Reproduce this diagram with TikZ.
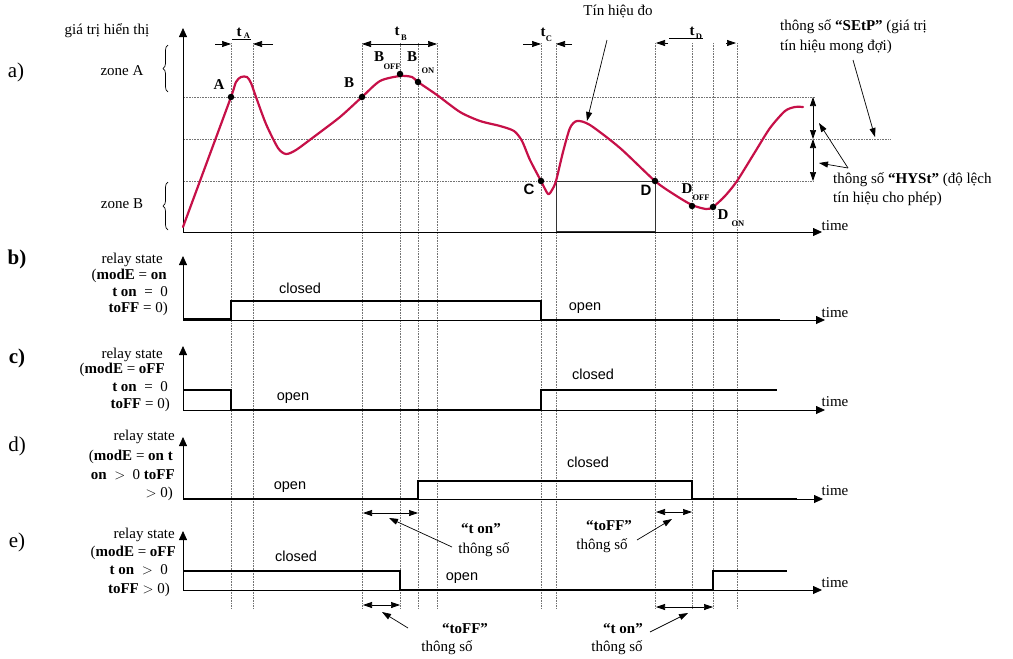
\documentclass[tikz,border=0pt]{standalone}
\usepackage{fontspec}
\setmainfont{Liberation Serif}
\setsansfont{Liberation Sans}
\usetikzlibrary{arrows.meta,decorations.pathreplacing}
\definecolor{sigred}{RGB}{198,16,72}
\tikzset{
  grid/.style={densely dotted, black!55, line width=0.6pt},
  axis/.style={line width=0.8pt, -{Triangle[length=9pt,width=8pt]}},
  relay/.style={line width=2.6pt},
  txt/.style={font=\fontsize{15}{16}\selectfont, inner sep=0pt, text height=10pt, text depth=3pt},
  stxt/.style={font=\sffamily\fontsize{14.5}{16}\selectfont, inner sep=0pt, text height=10pt, text depth=3pt},
  btxt/.style={font=\bfseries\fontsize{15}{16}\selectfont, inner sep=0pt, text height=10pt, text depth=3pt},
  bstxt/.style={font=\sffamily\bfseries\fontsize{15}{16}\selectfont, inner sep=0pt},
  lab/.style={font=\fontsize{21}{22}\selectfont, inner sep=0pt},
  subt/.style={font=\bfseries\fontsize{8.5}{9}\selectfont, inner sep=0pt},
  dot/.style={circle, fill=black, inner sep=0pt, minimum size=6.5pt},
  ann/.style={line width=0.7pt, -{Triangle[length=9pt,width=6pt]}},
  dbl/.style={line width=0.7pt, {Triangle[length=9pt,width=6pt]}-{Triangle[length=9pt,width=6pt]}},
  curve/.style={sigred, line width=2.2pt, line join=round, line cap=round},
  thin/.style={line width=0.7pt},
}
\begin{document}
\begin{tikzpicture}[x=1pt,y=-1pt]
\useasboundingbox (0,0) rectangle (1013,659);
% vertical grid
\foreach \x in {231,253,362,400,418,437,541,556,655,692,713,737}
  \draw[grid] (\x,43) -- (\x,608);
% horizontal grid
\draw[grid] (184,97) -- (815,97);
\draw[grid] (184,139) -- (890,139);
\draw[grid] (184,181) -- (813,181);

% ---------- panel a ----------
\node[lab] (la) at (16,72) {a)};
\node[txt] (gt) at (107,31) {giá trị hiển thị};
\node[txt] (zA) at (122,72) {zone A};
\node[txt] (zB) at (122,205) {zone B};
\draw[thin, decorate, decoration={brace, amplitude=5pt}] (168,92) -- (168,45);
\draw[thin, decorate, decoration={brace, amplitude=5pt}] (168,230) -- (168,182);
\coordinate (oa) at (183,232);
\coordinate (ya) at (183,28);
\coordinate (xa) at (822,232);
\draw[axis] (oa) -- (ya);
\draw[axis] (oa) -- (xa);
\node[txt] (timea) at (835,227) {time};

% box
\draw[line width=0.8pt, black!80] (556,181) rectangle (655,231);

% curve
\draw[curve] plot[smooth, tension=0.45] coordinates {
 (183,227) (207,162) (231,97) (236,82) (241,77) (247,77) (251,83) (256,97)
 (266,124) (278,148) (286,154) (296,150) (315,136) (340,117) (362,97)
 (380,81) (400,76) (412,77) (418,82) (437,95) (460,112) (480,121)
 (500,126) (514,131) (522,141) (530,160) (541,181) (548,194) (552,190)
 (556,181) (563,152) (570,128) (577,121) (590,125) (620,148) (655,181)
 (675,195) (692,205) (706,209) (713,207) (725,196) (737,181) (755,152)
 (770,128) (785,111) (795,107) (803,107)};

% points
\node[dot] (pA) at (231,97) {};
\node[dot] (pB) at (362,97) {};
\node[dot] (pBoff) at (400,74) {};
\node[dot] (pBon) at (418,82) {};
\node[dot] (pC) at (541,181) {};
\node[dot] (pD) at (655,181) {};
\node[dot] (pDoff) at (692,206) {};
\node[dot] (pDon) at (713,207) {};
\node[btxt] (lA) at (219,86) {A};
\node[btxt] (lB) at (349,84) {B};
\node[btxt] (lBoff) at (379,58) {B};
\node[subt] (lBoffs) at (392,67) {OFF};
\node[btxt] (lBon) at (412,58) {B};
\node[subt] (lBons) at (428,71) {ON};
\node[bstxt] (lC) at (529,189) {C};
\node[bstxt] (lD) at (646,190) {D};
\node[btxt] (lDoff) at (687,190) {D};
\node[subt] (lDoffs) at (701,198) {OFF};
\node[btxt] (lDon) at (723,216) {D};
\node[subt] (lDons) at (738,224) {ON};

% t labels
\node[btxt] (tA) at (239,33) {t};
\node[subt] (tAs) at (247,36) {A};
\draw[thin] (232,39) -- (251,39);
\coordinate (tA1) at (215,44); \coordinate (tA2) at (231,44);
\coordinate (tA3) at (273,44); \coordinate (tA4) at (253,44);
\draw[ann] (tA1) -- (tA2);
\draw[ann] (tA3) -- (tA4);

\node[btxt] (tB) at (397,32) {t};
\node[subt] (tBs) at (404,38) {B};
\coordinate (tB1) at (362,44); \coordinate (tB2) at (437,44);
\draw[dbl] (tB1) -- (tB2);

\node[btxt] (tC) at (543,33) {t};
\node[subt] (tCs) at (549,39) {C};
\coordinate (tC1) at (523,44); \coordinate (tC2) at (541,44);
\coordinate (tC3) at (572,44); \coordinate (tC4) at (556,44);
\draw[ann] (tC1) -- (tC2);
\draw[ann] (tC3) -- (tC4);

\node[btxt] (tD) at (692,32) {t};
\node[subt] (tDs) at (699,37) {D};
\draw[thin] (669,38) -- (703,38);
\coordinate (tD1) at (668,43); \coordinate (tD2) at (656,43);
\coordinate (tD3) at (726,43); \coordinate (tD4) at (736,43);
\draw[ann] (tD1) -- (tD2);
\draw[ann] (tD3) -- (tD4);

% top annotations
\node[txt] (tin) at (618,12) {Tín hiệu đo};
\coordinate (tinS) at (607,40); \coordinate (tinE) at (587,121);
\draw[ann] (tinS) -- (tinE);
\node[txt, anchor=west] (sp1) at (780,27) {thông số \textbf{“SEtP”} (giá trị};
\node[txt, anchor=west] (sp2) at (780,47) {tín hiệu mong đợi)};
\coordinate (spS) at (853,60); \coordinate (spE) at (875,137);
\draw[ann] (spS) -- (spE);
\coordinate (h1) at (813,97); \coordinate (h2) at (813,139); \coordinate (h3) at (813,181);
\draw[dbl] (h1) -- (h2);
\draw[dbl] (h2) -- (h3);
\node[txt, anchor=west] (hy1) at (833,180) {thông số \textbf{“HYSt”} (độ lệch};
\node[txt, anchor=west] (hy2) at (833,199) {tín hiệu cho phép)};
\coordinate (hyS) at (848,168); \coordinate (hyE1) at (819,123); \coordinate (hyE2) at (819,163);
\draw[ann] (hyS) -- (hyE1);
\draw[ann] (hyS) -- (hyE2);

% ---------- panel b ----------
\node[lab, font=\bfseries\fontsize{21}{22}\selectfont] (lb) at (17,259) {b)};
\node[txt, anchor=east] (b1) at (163,260) {relay state};
\node[txt, anchor=east] (b2) at (167,276) {(\textbf{modE} = \textbf{on}};
\node[txt, anchor=east] (b3) at (168,293) {\textbf{t on} \ = \ 0};
\node[txt, anchor=east] (b4) at (168,309) {\textbf{toFF} = 0)};
\coordinate (ob) at (183,320);
\draw[axis] (ob) -- (183,256);
\draw[axis] (ob) -- (825,320);
\node[txt] (timeb) at (835,314) {time};
\draw[relay] (183,319) -- (231,319) -- (231,301) -- (541,301) -- (541,320) -- (780,320);
\node[stxt] (bcl) at (300,290) {closed};
\node[stxt] (bop) at (585,307) {open};

% ---------- panel c ----------
\node[lab, font=\bfseries\fontsize{21}{22}\selectfont] (lc) at (17,358) {c)};
\node[txt, anchor=east] (c1) at (163,355) {relay state};
\node[txt, anchor=east] (c2) at (165,370) {(\textbf{modE} = \textbf{oFF}};
\node[txt, anchor=east] (c3) at (168,388) {\textbf{t on} \ = \ 0};
\node[txt, anchor=east] (c4) at (170,405) {\textbf{toFF} = 0)};
\coordinate (oc) at (183,410);
\draw[axis] (oc) -- (183,346);
\draw[axis] (oc) -- (825,410);
\node[txt] (timec) at (835,403) {time};
\draw[relay] (183,390) -- (231,390) -- (231,410) -- (541,410) -- (541,390) -- (777,390);
\node[stxt] (cop) at (293,397) {open};
\node[stxt] (ccl) at (593,376) {closed};

% ---------- panel d ----------
\node[lab] (ld) at (17,446) {d)};
\node[txt, anchor=east] (d1) at (175,437) {relay state};
\node[txt, anchor=east] (d2) at (173,457) {(\textbf{modE} = \textbf{on t}};
\node[txt, anchor=east] (d3) at (175,476) {\textbf{on} \ $>$ \ 0 \textbf{toFF}};
\node[txt, anchor=east] (d4) at (173,494) {$>$ 0)};
\coordinate (od) at (183,499);
\draw[axis] (od) -- (183,437);
\draw[axis] (od) -- (823,499);
\node[txt] (timed) at (835,492) {time};
\draw[relay] (183,499) -- (418,499) -- (418,481) -- (692,481) -- (692,499) -- (797,499);
\node[stxt] (dop) at (290,486) {open};
\node[stxt] (dcl) at (588,464) {closed};
\coordinate (dt1) at (363,513); \coordinate (dt2) at (418,513);
\draw[dbl] (dt1) -- (dt2);
\node[btxt] (dton) at (481,530) {“t on”};
\node[txt] (dtonp) at (484,550) {thông số};
\coordinate (dtS) at (452,547); \coordinate (dtE) at (389,518);
\draw[ann] (dtS) -- (dtE);
\coordinate (df1) at (656,512); \coordinate (df2) at (692,512);
\draw[dbl] (df1) -- (df2);
\node[btxt] (dtoff) at (609,527) {“toFF”};
\node[txt] (dtoffp) at (602,546) {thông số};
\coordinate (dfS) at (637,540); \coordinate (dfE) at (672,519);
\draw[ann] (dfS) -- (dfE);

% ---------- panel e ----------
\node[lab] (le) at (17,542) {e)};
\node[txt, anchor=east] (e1) at (175,535) {relay state};
\node[txt, anchor=east] (e2) at (176,553) {(\textbf{modE} = \textbf{oFF}};
\node[txt, anchor=east] (e3) at (168,571) {\textbf{t on} \ $>$ \ 0};
\node[txt, anchor=east] (e4) at (170,590) {\textbf{toFF} $>$ 0)};
\coordinate (oe) at (183,590);
\draw[axis] (oe) -- (183,531);
\draw[axis] (oe) -- (822,590);
\node[txt] (timee) at (835,584) {time};
\draw[relay] (183,571) -- (400,571) -- (400,590) -- (713,590) -- (713,571) -- (787,571);
\node[stxt] (ecl) at (296,558) {closed};
\node[stxt] (eop) at (462,577) {open};
\coordinate (ef1) at (363,605); \coordinate (ef2) at (400,605);
\draw[dbl] (ef1) -- (ef2);
\node[btxt] (etoff) at (465,630) {“toFF”};
\node[txt] (etoffp) at (447,648) {thông số};
\coordinate (efS) at (408,628); \coordinate (efE) at (382,612);
\draw[ann] (efS) -- (efE);
\coordinate (et1) at (656,607); \coordinate (et2) at (713,607);
\draw[dbl] (et1) -- (et2);
\node[btxt] (eton) at (623,630) {“t on”};
\node[txt] (etonp) at (617,648) {thông số};
\coordinate (etS) at (650,632); \coordinate (etE) at (688,613);
\draw[ann] (etS) -- (etE);
\end{tikzpicture}
\end{document}
